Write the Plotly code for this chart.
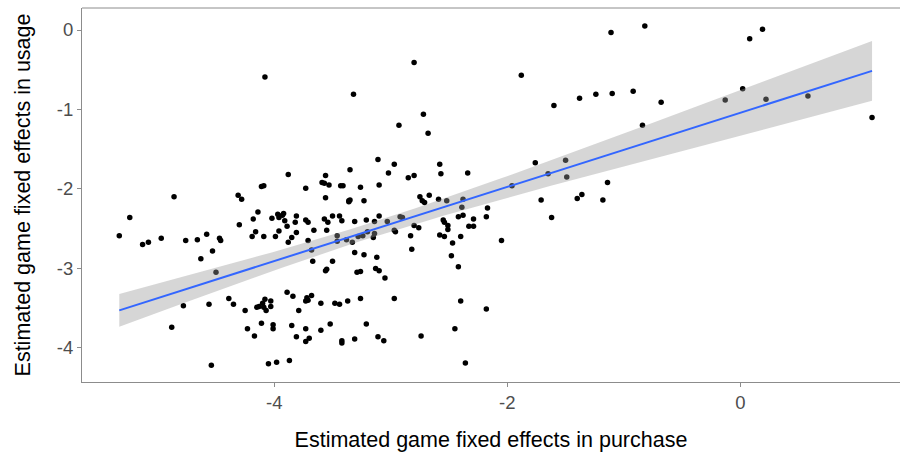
import numpy as np
import plotly.graph_objects as go

# Estimated game fixed effects: purchase (x) vs usage (y)
purchase_fe = [
    -5.33, -5.24, -5.13, -5.08, -4.97, -4.86, -4.76, -4.66, -4.58, -4.63, -4.53, -4.47, -4.46, -4.50,
    -3.88, -3.56, -3.35, -4.09, -4.11, -3.73, -3.59, -3.57, -3.53, -3.43, -3.41, -3.26, -4.31, -4.28,
    -3.56, -3.36, -3.35, -3.36, -3.23, -4.14, -4.18, -4.30, -4.02, -3.97, -3.96, -3.93, -3.92, -3.91,
    -3.81, -3.82, -3.73, -3.71, -3.89, -3.96, -4.16, -4.19, -4.09, -3.99, -3.85, -3.81, -3.88, -3.66,
    -3.55, -3.57, -3.54, -3.50, -3.44, -3.42, -3.31, -3.21, -3.71, -3.46, -3.46, -3.38, -3.33, -3.28,
    -3.24, -3.20, -3.68, -3.31, -3.23, -3.67, -3.50, -3.55, -3.56, -3.29, -3.26,
    -3.11, -2.97, -3.02, -2.85, -2.80, -2.58, -2.57, -2.34, -3.10, -2.75, -2.73, -2.71, -2.67, -2.59,
    -2.52, -2.38, -2.39, -2.17, -2.18, -2.29, -2.42, -2.38, -2.55, -2.54, -2.51, -2.51, -2.33, -2.29,
    -3.10, -3.14, -3.03, -2.92, -2.90, -2.80, -2.76, -2.97, -2.96, -3.14, -3.15, -2.83, -2.58, -2.54,
    -2.40, -2.47, -2.82, -2.05, -3.12, -2.48, -2.42, -3.13, -3.10, -3.05,
    -4.78, -4.56, -4.39, -4.88, -4.54,
    -4.35, -4.25, -4.08, -4.03, -4.10, -4.13, -4.15, -4.09, -4.03, -4.07, -3.89, -3.84, -3.72, -3.71,
    -3.73, -3.68, -3.79, -3.60, -3.48, -3.44, -3.37, -3.26, -4.23, -4.11, -4.01, -4.01, -4.17, -3.85,
    -3.73, -3.81, -3.70, -3.73, -3.60, -3.52, -3.42, -3.42, -3.31, -3.21, -4.05, -3.98, -3.87,
    -2.97, -2.40, -2.18, -3.11, -3.06, -2.74, -2.45, -2.36,
    -4.08, -3.32, -2.80, -2.72, -2.93, -2.68,
    -1.88, -1.60, -1.38, -1.24, -1.11, -1.10, -0.92, -0.82, -0.68, -0.84, -1.76, -1.50, -1.65, -1.49,
    -1.96, -1.71, -1.62, -1.40, -1.36, -1.18, -1.14, -0.13, 0.02, 0.08, 0.19, 0.22, 0.58, 1.13,
]
usage_fe = [
    -2.59, -2.36, -2.70, -2.67, -2.62, -2.10, -2.65, -2.64, -2.57, -2.88, -2.78, -2.62, -2.65, -3.05,
    -1.82, -1.83, -1.76, -1.96, -1.97, -1.99, -1.92, -1.93, -1.95, -1.96, -1.96, -1.98, -2.08, -2.13,
    -2.11, -2.15, -2.14, -2.16, -2.15, -2.29, -2.38, -2.45, -2.37, -2.32, -2.36, -2.33, -2.31, -2.40,
    -2.34, -2.42, -2.39, -2.42, -2.47, -2.53, -2.54, -2.60, -2.60, -2.60, -2.61, -2.55, -2.67, -2.52,
    -2.52, -2.38, -2.42, -2.34, -2.34, -2.40, -2.41, -2.39, -2.65, -2.59, -2.66, -2.64, -2.67, -2.60,
    -2.59, -2.54, -2.77, -2.80, -2.83, -2.91, -2.91, -3.01, -3.03, -3.05, -3.04,
    -1.63, -1.69, -1.80, -1.86, -1.83, -1.69, -1.81, -1.80, -1.95, -2.10, -2.15, -2.17, -2.08, -2.13,
    -2.15, -2.13, -2.23, -2.24, -2.35, -2.38, -2.35, -2.33, -2.39, -2.42, -2.46, -2.51, -2.47, -2.47,
    -2.34, -2.41, -2.41, -2.35, -2.36, -2.46, -2.49, -2.52, -2.54, -2.56, -2.61, -2.59, -2.58, -2.60,
    -2.60, -2.68, -2.76, -2.65, -2.86, -2.84, -2.98, -3.00, -3.03, -3.12,
    -3.47, -3.45, -3.38, -3.74, -4.22,
    -3.45, -3.53, -3.39, -3.41, -3.44, -3.48, -3.49, -3.49, -3.48, -3.53, -3.30, -3.35, -3.37, -3.40,
    -3.41, -3.34, -3.53, -3.44, -3.44, -3.45, -3.41, -3.38, -3.76, -3.69, -3.71, -3.76, -3.85, -3.72,
    -3.76, -3.86, -3.88, -3.92, -3.78, -3.70, -3.91, -3.94, -3.89, -3.70, -4.20, -4.18, -4.16,
    -3.38, -3.41, -3.51, -3.86, -3.91, -3.85, -3.76, -4.19,
    -0.59, -0.81, -0.41, -1.06, -1.20, -1.30,
    -0.57, -0.95, -0.86, -0.81, -0.03, -0.80, -0.77, 0.05, -0.91, -1.20, -1.67, -1.64, -1.81, -1.85,
    -1.96, -2.14, -2.36, -2.12, -2.07, -2.14, -1.92, -0.88, -0.74, -0.11, 0.01, -0.87, -0.83, -1.10,
]

x_ticks = [-4, -2, 0]
x_tick_text = ["-4", "-2", "0"]
y_ticks = [0, -1, -2, -3, -4]
y_tick_text = ["0", "-1", "-2", "-3", "-4"]

x = np.array(purchase_fe)
y = np.array(usage_fe)

# Linear fit with a 95% confidence band for the mean
n = len(x)
X = np.column_stack([np.ones(n), x])
beta, *_ = np.linalg.lstsq(X, y, rcond=None)
resid = y - X @ beta
sigma2 = resid @ resid / (n - 2)
cov = sigma2 * np.linalg.inv(X.T @ X)
xs = np.linspace(x.min(), x.max(), 80)
Xs = np.column_stack([np.ones_like(xs), xs])
fit = Xs @ beta
se = np.sqrt(np.einsum("ij,jk,ik->i", Xs, cov, Xs))
t_crit = 1.971
lower = fit - t_crit * se
upper = fit + t_crit * se

fig = go.Figure()
fig.add_trace(go.Scatter(
    x=x, y=y, mode="markers",
    marker=dict(color="black", size=5.5, line=dict(width=0)),
    hoverinfo="skip", showlegend=False,
))
fig.add_trace(go.Scatter(
    x=np.concatenate([xs, xs[::-1]]), y=np.concatenate([upper, lower[::-1]]),
    fill="toself", fillcolor="rgba(153,153,153,0.4)", line=dict(width=0),
    mode="lines", hoverinfo="skip", showlegend=False,
))
fig.add_trace(go.Scatter(
    x=xs, y=fit, mode="lines", line=dict(color="#3366FF", width=2),
    hoverinfo="skip", showlegend=False,
))

axis_common = dict(
    showgrid=False, zeroline=False, showline=True, linecolor="#8c8c8c", linewidth=1,
    ticks="outside", ticklen=4, tickcolor="#8c8c8c", tickwidth=1,
    tickfont=dict(family="Liberation Sans, Arial, sans-serif", size=18.5, color="#4d4d4d"),
)

fig.update_layout(
    width=900, height=458,
    margin=dict(l=82, r=0, t=8, b=76),
    paper_bgcolor="white", plot_bgcolor="white",
    font=dict(family="Liberation Sans, Arial, sans-serif", color="black"),
    xaxis=dict(
        range=[-5.65, 1.37], tickvals=x_ticks, ticktext=x_tick_text, mirror=False,
        title=dict(text="Estimated game fixed effects in purchase", font=dict(size=21.5), standoff=19),
        **axis_common,
    ),
    yaxis=dict(
        range=[-4.43, 0.277], tickvals=y_ticks, ticktext=y_tick_text,
        title=dict(text="Estimated game fixed effects in usage", font=dict(size=21.5), standoff=20),
        **axis_common,
    ),
    shapes=[dict(type="line", xref="paper", yref="paper", x0=0, x1=1, y0=1, y1=1,
                 line=dict(color="#8c8c8c", width=1))],
)

fig.write_html("out.html")
